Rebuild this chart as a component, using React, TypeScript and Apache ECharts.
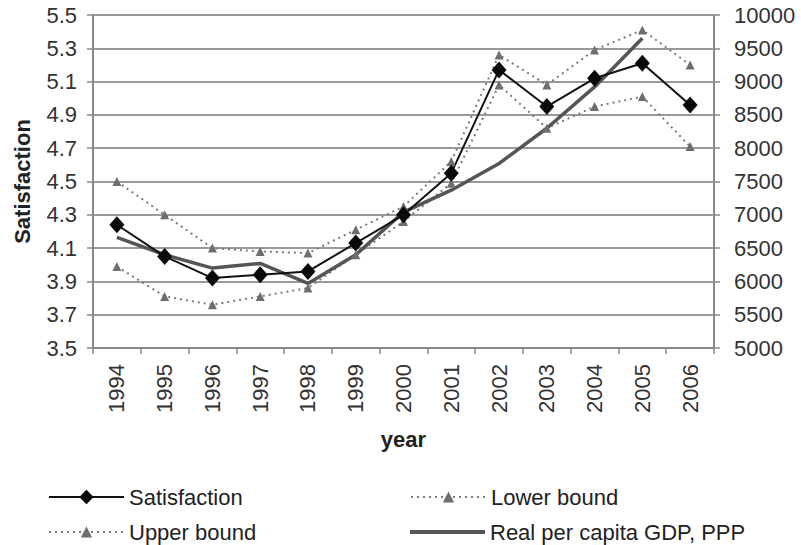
import React, { useEffect, useRef } from "react";
import * as echarts from "echarts";

const years = ["1994","1995","1996","1997","1998","1999","2000","2001","2002","2003","2004","2005","2006"];
const satisfaction = [4.24, 4.05, 3.92, 3.94, 3.96, 4.13, 4.3, 4.55, 5.17, 4.95, 5.12, 5.21, 4.96];
const upperBound = [4.5, 4.3, 4.1, 4.08, 4.07, 4.21, 4.35, 4.62, 5.26, 5.08, 5.29, 5.41, 5.2];
const lowerBound = [3.99, 3.81, 3.76, 3.81, 3.86, 4.06, 4.26, 4.49, 5.08, 4.82, 4.95, 5.01, 4.71];
const gdp = [6660, 6400, 6200, 6270, 5970, 6400, 7040, 7370, 7770, 8300, 8920, 9650, null];

const FONT = "Liberation Sans, Arial, sans-serif";

export default function App() {
  const ref = useRef<HTMLDivElement>(null);
  useEffect(() => {
    const chart = echarts.init(ref.current!, null, { renderer: "svg" });
    const dotted = [2, 4];
    const legendBase = {
      itemWidth: 75,
      itemHeight: 14,
      itemGap: 5,
      textStyle: { fontFamily: FONT, fontSize: 22, color: "#222" },
      selectedMode: false,
      orient: "horizontal",
    };
    chart.setOption({
      animation: false,
      backgroundColor: "#fff",
      textStyle: { fontFamily: FONT },
      grid: { left: 93, right: 87, top: 15, bottom: 197, containLabel: false },
      legend: [
        { ...legendBase, itemHeight: 18, data: ["Satisfaction"], left: 43, top: 481 },
        { ...legendBase, data: ["Lower bound"], left: 405, top: 481 },
        { ...legendBase, data: ["Upper bound"], left: 43, top: 516 },
        { ...legendBase, itemHeight: 4, data: [{ name: "Real per capita GDP, PPP", icon: "rect" }], left: 405, top: 516 },
      ],
      xAxis: {
        type: "category",
        data: years,
        boundaryGap: true,
        name: "year",
        nameLocation: "middle",
        nameGap: 80,
        nameTextStyle: { fontFamily: FONT, fontSize: 22, fontWeight: "bold", color: "#222" },
        axisLine: { lineStyle: { color: "#888", width: 2 } },
        axisTick: { show: true, length: 6, lineStyle: { color: "#888", width: 1.5 } },
        axisLabel: { rotate: 90, fontSize: 22, color: "#333", margin: 16, fontFamily: FONT },
      },
      yAxis: [
        {
          type: "value",
          min: 3.5,
          max: 5.5,
          interval: 0.2,
          name: "Satisfaction",
          nameLocation: "middle",
          nameGap: 60,
          nameTextStyle: { fontFamily: FONT, fontSize: 22, fontWeight: "bold", color: "#222" },
          axisLine: { show: true, lineStyle: { color: "#888", width: 2 } },
          axisTick: { show: true, length: 6, lineStyle: { color: "#888", width: 1.5 } },
          axisLabel: { fontSize: 22, color: "#333", margin: 16, fontFamily: FONT, formatter: (v: number) => v.toFixed(1) },
          splitLine: { show: true, lineStyle: { color: "#999", width: 1.8 } },
        },
        {
          type: "value",
          min: 5000,
          max: 10000,
          interval: 500,
          position: "right",
          axisLine: { show: true, lineStyle: { color: "#888", width: 2 } },
          axisTick: { show: true, length: 6, lineStyle: { color: "#888", width: 1.5 } },
          axisLabel: { fontSize: 22, color: "#333", margin: 20, fontFamily: FONT, formatter: (v: number) => String(v) },
          splitLine: { show: false },
        },
      ],
      series: [
        {
          name: "Lower bound",
          type: "line",
          data: lowerBound,
          symbol: "triangle",
          symbolSize: 9,
          itemStyle: { color: "#6e6e6e" },
          lineStyle: { color: "#7a7a7a", width: 2, type: dotted },
        },
        {
          name: "Upper bound",
          type: "line",
          data: upperBound,
          symbol: "triangle",
          symbolSize: 9,
          itemStyle: { color: "#6e6e6e" },
          lineStyle: { color: "#7a7a7a", width: 2, type: dotted },
        },
        {
          name: "Real per capita GDP, PPP",
          type: "line",
          yAxisIndex: 1,
          data: gdp,
          symbol: "none",
          itemStyle: { color: "#555" },
          lineStyle: { color: "#555", width: 3.5 },
        },
        {
          name: "Satisfaction",
          type: "line",
          data: satisfaction,
          symbol: "diamond",
          symbolSize: [15, 17],
          itemStyle: { color: "#0a0a0a" },
          lineStyle: { color: "#111", width: 2 },
        },
      ],
    });
    return () => chart.dispose();
  }, []);
  return <div ref={ref} style={{ width: 801, height: 545, position: "absolute", left: 0, top: 0 }} />;
}
